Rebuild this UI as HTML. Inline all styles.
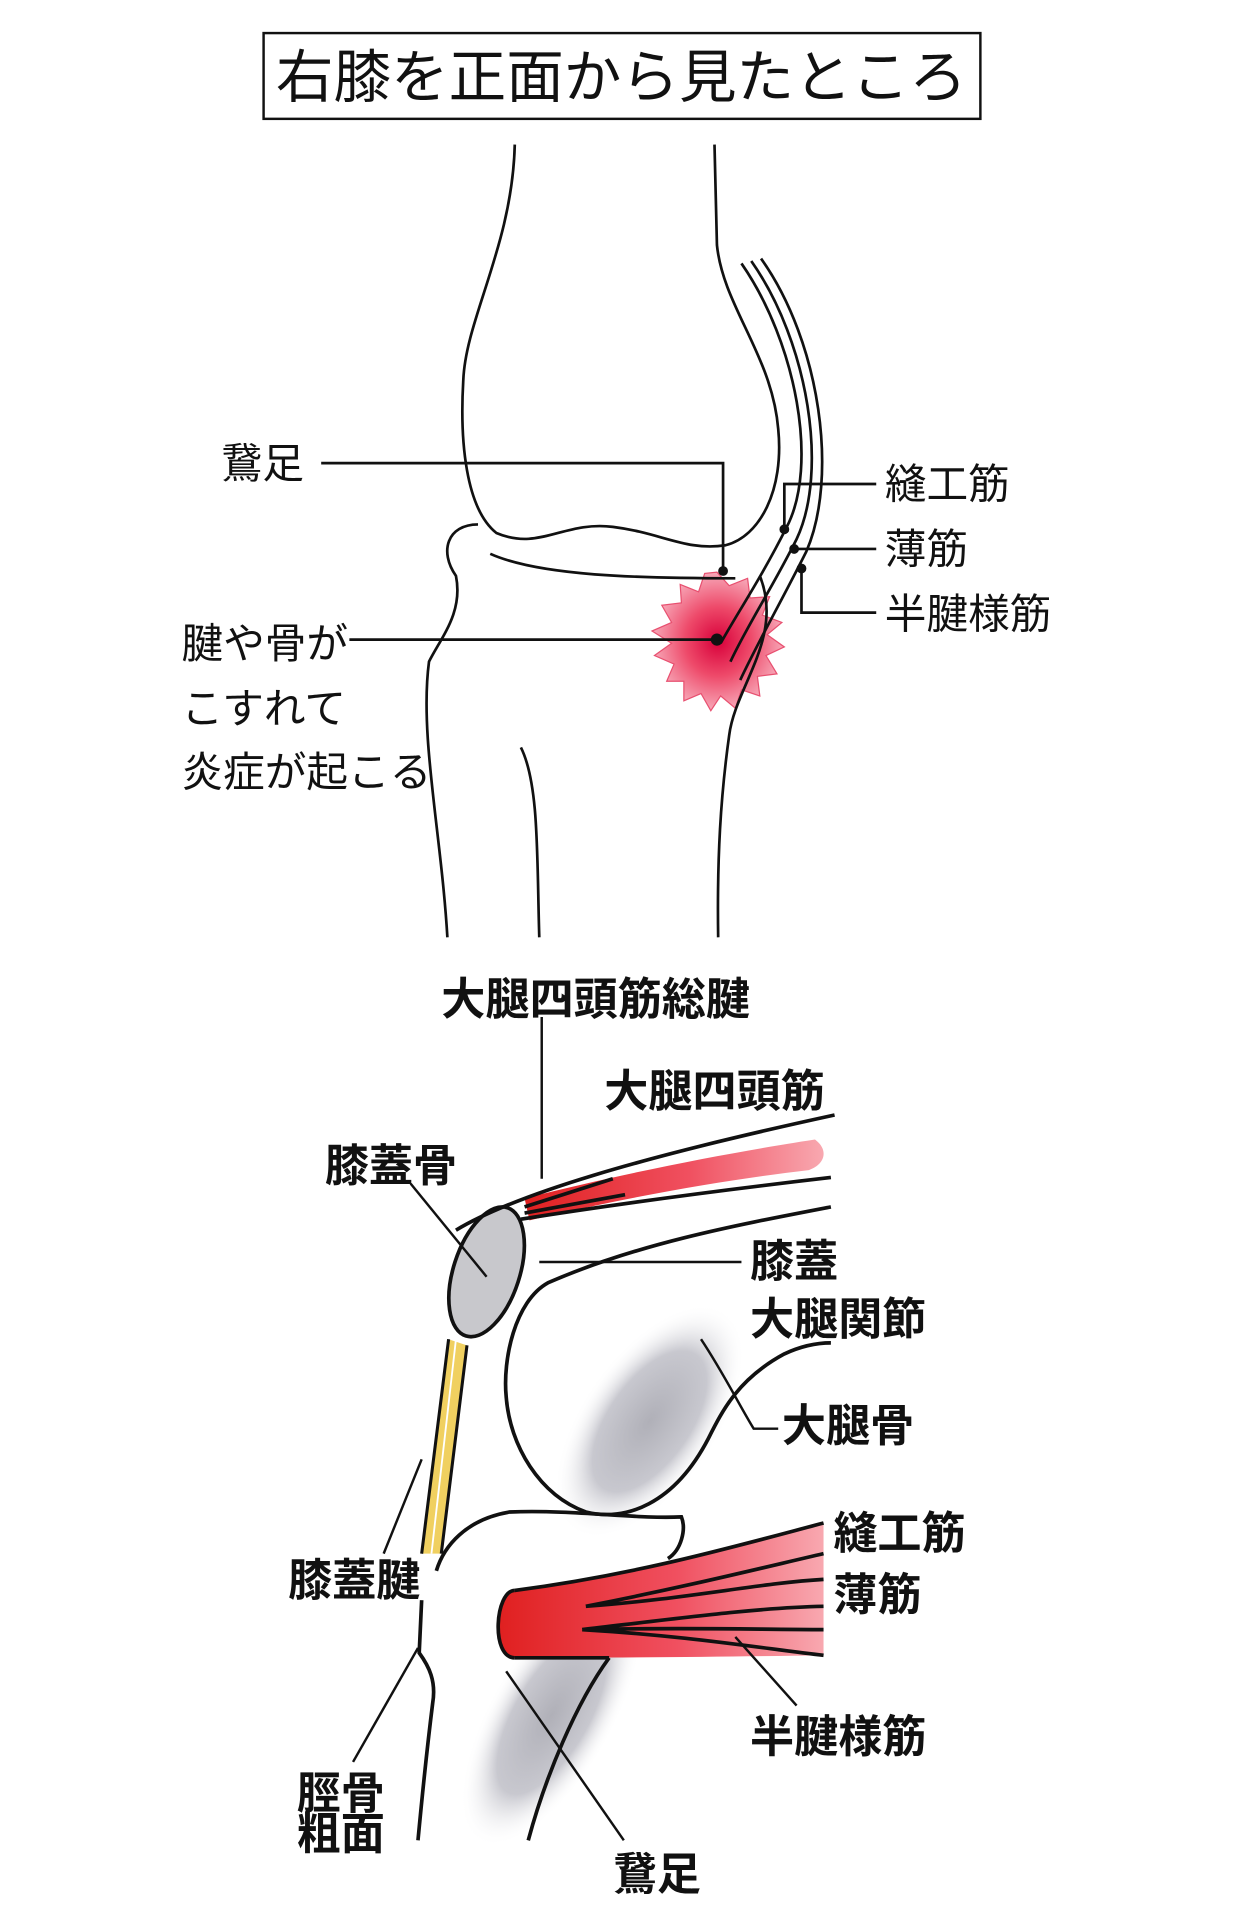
<!DOCTYPE html>
<html><head><meta charset="utf-8"><style>
html,body{margin:0;padding:0;background:#fff;}
svg{display:block;}
text{font-family:"Liberation Sans","Noto Sans CJK JP",sans-serif;fill:#111;}
</style></head><body>
<svg width="1255" height="1920" viewBox="0 0 1024 1567" xmlns="http://www.w3.org/2000/svg">
<defs>
<radialGradient id="rg" cx="50%" cy="50%" r="50%">
<stop offset="0" stop-color="#d8003a"/><stop offset="0.5" stop-color="#ee4a6a"/><stop offset="1" stop-color="#f7a8b8"/>
</radialGradient>
<linearGradient id="mg" x1="0" x2="1" y1="0" y2="0">
<stop offset="0" stop-color="#e02020"/><stop offset="0.55" stop-color="#f05060"/><stop offset="1" stop-color="#f8a8b0"/>
</linearGradient>
<radialGradient id="gg" cx="50%" cy="50%" r="50%">
<stop offset="0" stop-color="#b0b0b8"/><stop offset="0.6" stop-color="#c8c8cf"/><stop offset="1" stop-color="#fff" stop-opacity="0"/>
</radialGradient>
</defs>
<rect x="215" y="27" width="585" height="70" fill="none" stroke="#111" stroke-width="2"/>
<text x="507" y="79" font-size="47" text-anchor="middle">右膝を正面から見たところ</text>

<!-- top knee -->
<polygon points="585,467 595,478 610,472 612,488 628,487 622,502 638,508 626,518 640,528 625,535 634,550 618,552 620,568 605,563 600,578 588,568 580,580 572,566 558,572 558,556 544,556 550,542 534,535 548,525 532,515 548,508 540,494 556,492 555,477 570,483 575,468" fill="url(#rg)" stroke="#e85070" stroke-width="1"/>
<g fill="none" stroke="#111" stroke-width="2.2">
<path d="M420,118 C418,200 380,260 378,310 C375,360 380,415 405,435 C440,450 460,425 500,430 C540,435 560,450 592,445 C620,438 640,400 635,350 C630,290 590,250 585,200 L583,118"/>
<path d="M390,428 C365,428 358,450 372,470 C378,500 360,520 350,540 C342,600 360,680 365,765"/>
<path d="M400,452 C440,470 520,472 600,472"/>
<path d="M620,470 C640,520 600,560 595,600 C588,650 585,700 586,765"/>
<path d="M425,610 C440,640 438,700 440,765"/>
<path d="M605,215 C650,280 668,380 642,430 C622,470 602,500 588,525"/>
<path d="M613,213 C660,280 676,385 650,440 C630,480 610,510 596,540"/>
<path d="M621,211 C670,280 684,390 658,450 C638,490 618,525 604,555"/>
<path d="M262,378 L590,378 L590,466"/>
<path d="M640,432 L640,395 L715,395"/>
<path d="M648,448 L715,448"/>
<path d="M654,464 L654,500 L715,500"/>
<path d="M285,522 L585,522"/>
</g>
<g fill="#111"><circle cx="590" cy="466" r="4"/><circle cx="640" cy="432" r="4"/><circle cx="648" cy="448" r="4"/><circle cx="654" cy="464" r="4"/><circle cx="585" cy="522" r="5"/></g>
<g font-size="34">
<text x="180" y="390">鵞足</text>
<text x="722" y="407">縫工筋</text>
<text x="722" y="460">薄筋</text>
<text x="722" y="513">半腱様筋</text>
<text x="148" y="537">腱や骨が</text>
<text x="148" y="590">こすれて</text>
<text x="148" y="642">炎症が起こる</text>
</g>

<ellipse cx="530" cy="1160" rx="55" ry="110" fill="url(#gg)" transform="rotate(35 530 1160)"/>
<ellipse cx="450" cy="1400" rx="50" ry="120" fill="url(#gg)" transform="rotate(30 450 1400)"/>
<path d="M428,978 C520,955 600,940 665,930 C676,938 674,950 660,955 C600,962 520,975 432,996 Z" fill="url(#mg)"/>
<path d="M420,1298 C520,1285 600,1262 672,1243 L672,1351 C600,1352 520,1353 420,1353 C400,1353 405,1298 420,1298 Z" fill="url(#mg)"/>
<path d="M366,1093 L344,1268 L360,1268 L381,1098 Z" fill="#f0d060"/>
<g fill="none" stroke="#111" stroke-width="2.5">
<path d="M366,1093 L344,1268 M381,1098 L360,1268"/>
<path d="M372,1093 L352,1268" stroke="#fff" stroke-width="1.5"/>
</g>
<ellipse cx="397" cy="1038" rx="27" ry="55" fill="#c8c8cc" stroke="#111" stroke-width="3" transform="rotate(18 397 1038)"/>
<g fill="none" stroke="#111" stroke-width="3">
<path d="M372,1004 C420,975 520,945 681,910"/>
<path d="M425,995 C520,980 600,970 678,961"/>
<path d="M428,985 L500,962 M428,990 L510,975"/>
<path d="M678,985 C600,1000 520,1015 447,1047 C420,1062 410,1110 413,1140 C416,1180 440,1220 478,1234 C510,1242 550,1228 578,1174 C590,1150 603,1125 640,1105 C655,1098 668,1096 678,1096"/>
<path d="M356,1282 C362,1262 380,1240 416,1234 C470,1232 520,1240 556,1238 C560,1248 556,1265 545,1272"/>
<path d="M420,1298 C520,1285 600,1262 672,1243"/>
<path d="M420,1353 C400,1353 404,1298 420,1298"/>
<path d="M420,1353 L497,1353"/>
<path d="M478,1311 C560,1295 620,1280 672,1268 M478,1311 C560,1305 620,1292 672,1289 M475,1330 C560,1320 620,1312 672,1311 M475,1330 C560,1328 620,1330 672,1330 M475,1330 C560,1335 620,1345 672,1351"/>
<path d="M344,1306 L342,1349 C350,1360 356,1372 353,1390 C348,1430 344,1470 341,1502"/>
<path d="M497,1353 C470,1390 445,1450 431,1502"/>
</g>
<g fill="none" stroke="#111" stroke-width="2">
<path d="M442,830 L442,962"/>
<path d="M335,966 L397,1042"/>
<path d="M440,1030 L605,1030"/>
<path d="M572,1093 C590,1120 605,1150 615,1166 L635,1166"/>
<path d="M413,1364 L509,1502"/>
<path d="M341,1345 L288,1438"/>
<path d="M344,1191 L313,1268"/>
<path d="M600,1336 L650,1392"/>
</g>
<g font-size="36" font-weight="bold">
<text x="360" y="828">大腿四頭筋総腱</text>
<text x="493" y="903">大腿四頭筋</text>
<text x="265" y="964">膝蓋骨</text>
<text x="612" y="1042">膝蓋</text>
<text x="612" y="1089">大腿関節</text>
<text x="638" y="1176">大腿骨</text>
<text x="680" y="1264">縫工筋</text>
<text x="680" y="1314">薄筋</text>
<text x="235" y="1302">膝蓋腱</text>
<text x="612" y="1430">半腱様筋</text>
<text x="242" y="1476">脛骨</text>
<text x="242" y="1509">粗面</text>
<text x="500" y="1542">鵞足</text>
</g>
</svg>
</body></html>
